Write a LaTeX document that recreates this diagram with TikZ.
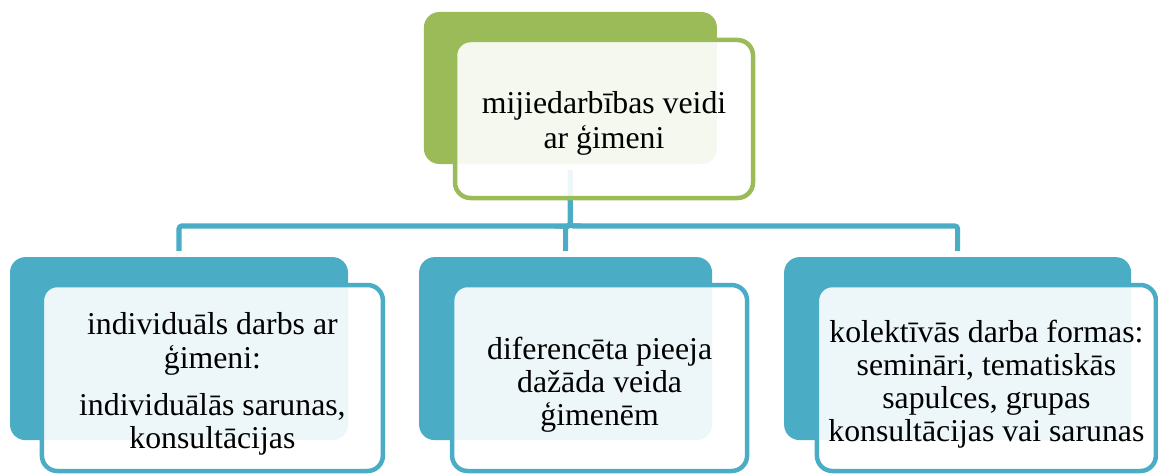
\documentclass[tikz,border=0pt]{standalone}
\usepackage{fontspec}
\setmainfont{Liberation Serif}
\definecolor{leafgreen}{HTML}{9BBB59}
\definecolor{seablue}{HTML}{4BACC6}

\begin{document}
\begin{tikzpicture}[
    back/.style={rectangle,rounded corners=11pt,inner sep=0pt},
    front/.style={rectangle,rounded corners=11pt,draw,line width=3.2pt,fill=white,fill opacity=0.9,inner sep=0pt},
    caption/.style={align=center,inner sep=0pt,font=\fontsize{22.6}{23.6}\selectfont},
    link/.style={draw=seablue,line width=3.6pt,rounded corners=2pt,shorten <=0.15cm,shorten >=0.15cm}
]
\useasboundingbox (0,0) rectangle (28.95,11.825);
% back plates
\node[back,fill=leafgreen,minimum width=7.325cm,minimum height=3.8cm] (topback) at (14.26,9.625) {};
\node[back,fill=seablue,minimum width=8.45cm,minimum height=4.575cm] (leftback) at (4.475,3.11) {};
\node[back,fill=seablue,minimum width=7.325cm,minimum height=4.575cm] (midback) at (14.14,3.11) {};
\node[back,fill=seablue,minimum width=8.675cm,minimum height=4.575cm] (rightback) at (23.94,3.11) {};
% connectors
\coordinate (bus) at (0,6.175);
\draw[link] (topback.south) |- (leftback.north |- bus) -- (leftback.north);
\draw[link] (topback.south) |- (midback.north |- bus) -- (midback.north);
\draw[link] (topback.south) |- (rightback.north |- bus) -- (rightback.north);
% front boxes
\node[front,draw=leafgreen,minimum width=7.45cm,minimum height=3.95cm] (top) at (15.1,8.85) {};
\node[front,draw=seablue,minimum width=8.525cm,minimum height=4.65cm] (left) at (5.31,2.375) {};
\node[front,draw=seablue,minimum width=7.375cm,minimum height=4.65cm] (mid) at (14.99,2.375) {};
\node[front,draw=seablue,minimum width=8.475cm,minimum height=4.65cm] (right) at (24.66,2.375) {};
% texts
\node[caption,font=\fontsize{22.6}{24.8}\selectfont] (toptext) at ([yshift=-0.1cm]top.center) {mijiedarbības veidi\\ ar ģimeni};
\node[caption] (lefttext) at ([yshift=-0.15cm]left.center) {individuāls darbs ar\\ ģimeni:\\[10pt] individuālās sarunas,\\ konsultācijas};
\node[caption] (midtext) at ([yshift=-0.17cm]mid.center) {diferencēta pieeja\\ dažāda veida\\ ģimenēm};
\node[caption] (righttext) at ([yshift=-0.15cm]right.center) {kolektīvās darba formas:\\ semināri, tematiskās\\ sapulces, grupas\\ konsultācijas vai sarunas};
\end{tikzpicture}
\end{document}
